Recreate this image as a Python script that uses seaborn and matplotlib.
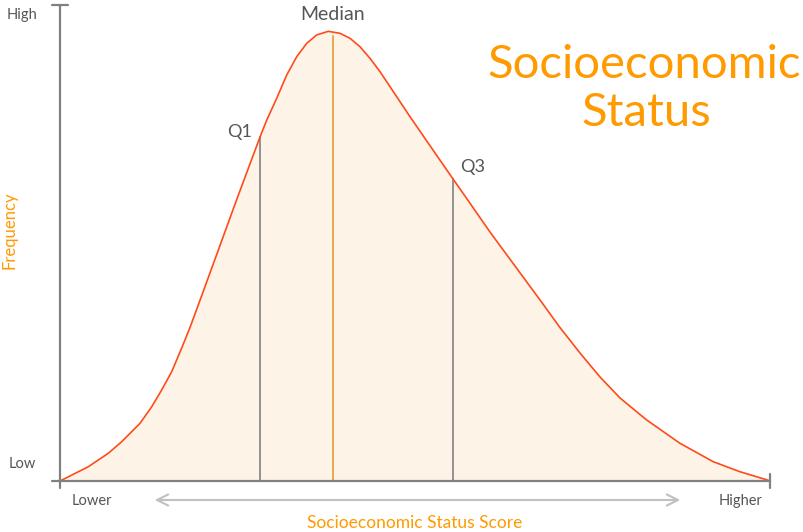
import numpy as np
import matplotlib
matplotlib.use("Agg")
import matplotlib.pyplot as plt
import seaborn as sns

# curve (score 0-100, frequency 0-100)
score = [0.0, 3.99, 6.80, 8.69, 11.27, 12.92, 14.32, 15.73, 17.14, 18.31,
         19.58, 22.25, 24.89, 28.17, 29.11, 30.52, 31.93, 33.34, 34.75, 36.15,
         37.79, 39.44, 40.85, 42.25, 43.66, 45.07, 46.48, 47.89, 49.30, 52.58,
         55.39, 57.28, 60.56, 67.61, 70.42, 73.24, 76.06, 78.87, 82.63, 87.32,
         92.01, 95.77, 99.30, 100.0]
freq = [0.0, 3.0, 5.82, 8.26, 12.12, 15.61, 19.12, 22.96, 27.94, 32.25,
        37.39, 48.32, 59.14, 72.27, 75.8, 80.40, 85.29, 89.14, 91.95, 93.70,
        94.47, 94.05, 93.00, 91.24, 88.80, 85.99, 82.84, 79.68, 76.53, 69.43,
        63.38, 59.35, 52.31, 38.03, 32.23, 26.89, 21.85, 17.44, 12.82, 7.92,
        4.05, 1.95, 0.36, 0.0]

q_names = ["Q1", "Median", "Q3"]
q_pos = [28.17, 38.45, 55.35]

sns.set_style("white")
plt.rcParams['font.family'] = ['Lato', 'DejaVu Sans']

fig = plt.figure(figsize=(8.04, 5.32), dpi=100)
ax = fig.add_axes([60 / 804, 51 / 532, 710 / 804, 476 / 532])

line_col = "#FF4A1A"
fill_col = "#FDF4E7"
orange = "#FF9A00"
grey_txt = "#555555"
axis_col = "#808080"

sns.lineplot(x=score, y=freq, ax=ax, color=line_col, lw=1.2, zorder=3)
ax.fill_between(score, freq, 0, color=fill_col, lw=0, zorder=1)

q_h = np.interp(q_pos, score, freq)
for name, xp, h in zip(q_names, q_pos, q_h):
    col = "#E8A040" if name == "Median" else "#8a8a8a"
    top = h - 0.8 if name == "Median" else h
    ax.plot([xp, xp], [0, top], color=col, lw=1.3, zorder=2)

ax.text(23.5, q_h[0] + 1.0, "Q1", fontsize=13, color=grey_txt, ha="left", va="center")
ax.text(q_pos[1], 98, "Median", fontsize=14, color=grey_txt, ha="center", va="center")
ax.text(56.3, q_h[2] + 2.6, "Q3", fontsize=13, color=grey_txt, ha="left", va="center")

# axes lines with T caps
ax.plot([-1.13, 100], [0, 0], color=axis_col, lw=1.6, clip_on=False, zorder=4)
ax.plot([0, 0], [-1.47, 100], color=axis_col, lw=1.6, clip_on=False, zorder=4)
ax.plot([-1.13, 1.13], [100, 100], color=axis_col, lw=1.6, clip_on=False)
ax.plot([100, 100], [-1.47, 1.47], color=axis_col, lw=1.6, clip_on=False)

ax.set_xlim(0, 100)
ax.set_ylim(0, 100)
ax.axis("off")

# labels
fig.text(7 / 804, 1 - 15 / 532, "High", fontsize=10.5, color=grey_txt, va="center")
fig.text(9 / 804, 1 - 464 / 532, "Low", fontsize=10.5, color=grey_txt, va="center")
fig.text(72 / 804, 1 - 501 / 532, "Lower", fontsize=10.5, color=grey_txt, va="center")
fig.text(763 / 804, 1 - 501 / 532, "Higher", fontsize=10.5, color=grey_txt, va="center", ha="right")
fig.text(10 / 804, 1 - 230 / 532, "Frequency", fontsize=12, color=orange, rotation=90,
         va="center", ha="center")
fig.text(415 / 804, 1 - 523 / 532, "Socioeconomic Status Score", fontsize=12.5, color=orange,
         va="center", ha="center")
fig.text(644 / 804, 1 - 78 / 532, "Socioeconomic", fontsize=34, color=orange,
         va="baseline", ha="center")
fig.text(646 / 804, 1 - 126 / 532, "Status", fontsize=34, color=orange,
         va="baseline", ha="center")

fig.patches.append(matplotlib.patches.FancyArrowPatch(
    (152 / 804, 1 - 500 / 532), (683 / 804, 1 - 500 / 532), transform=fig.transFigure,
    arrowstyle="<->,head_length=8,head_width=4", color="#c0c0c0", lw=1.5))

fig.savefig("out.png", dpi=100)
